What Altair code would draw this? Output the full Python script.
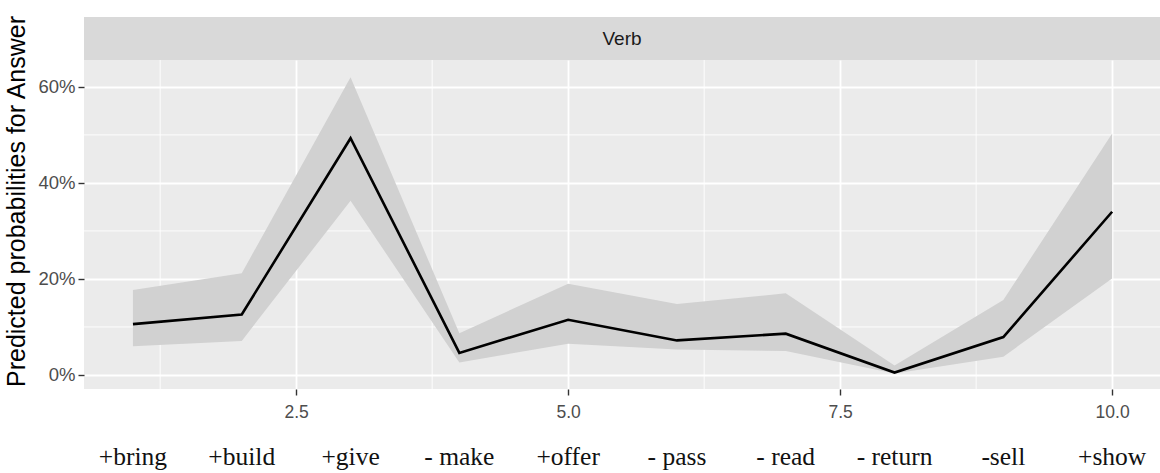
import altair as alt
import pandas as pd

verbs = ["+bring", "+build", "+give", "- make", "+offer", "- pass", "- read", "- return", "-sell", "+show"]
x_pos = [1, 2, 3, 4, 5, 6, 7, 8, 9, 10]
predicted = [0.106, 0.126, 0.493, 0.046, 0.115, 0.072, 0.086, 0.005, 0.079, 0.340]
conf_low = [0.060, 0.071, 0.363, 0.026, 0.065, 0.053, 0.050, 0.003, 0.038, 0.201]
conf_high = [0.177, 0.212, 0.620, 0.087, 0.190, 0.148, 0.170, 0.020, 0.156, 0.503]
x_ticks = [2.5, 5.0, 7.5, 10.0]
y_ticks = [0.0, 0.2, 0.4, 0.6]
x_minor = [1.25, 3.75, 6.25, 8.75]
y_minor = [0.1, 0.3, 0.5]
facet_label = "Verb"
y_title = "Predicted probabilities for Answer"

W, H = 1076, 329

df = pd.DataFrame({"x": x_pos, "y": predicted, "lo": conf_low, "hi": conf_high, "verb": verbs})

xscale = alt.Scale(domain=[0.55, 10.44], nice=False, zero=False)
yscale = alt.Scale(domain=[-0.0292, 0.656], nice=False, zero=False)

xaxis = alt.Axis(values=x_ticks, format=".1f", title=None, grid=True, gridColor="white",
                 gridWidth=1.8, domain=False, tickColor="#333333", tickSize=6, tickWidth=1.4,
                 labelColor="#4D4D4D", labelFontSize=17.5, labelFont="Liberation Sans",
                 labelPadding=8)
yaxis = alt.Axis(values=y_ticks, format=".0%", title=y_title, grid=True, gridColor="white",
                 gridWidth=1.8, domain=False, tickColor="#333333", tickSize=6, tickWidth=1.4,
                 labelColor="#4D4D4D", labelFontSize=18.5, labelFont="Liberation Sans",
                 labelPadding=3, titleFont="Liberation Sans", titleFontSize=25,
                 titleFontWeight="normal", titleColor="#000000", titleAngle=270,
                 titleX=-68, titleY=141, titleAlign="center", titleBaseline="middle")


def X(field):
    return alt.X(field, type="quantitative", scale=xscale, axis=xaxis)


def Y(field):
    return alt.Y(field, type="quantitative", scale=yscale, axis=yaxis)


vminor = alt.Chart(pd.DataFrame({"x": x_minor})).mark_rule(color="white", strokeWidth=0.9).encode(x=X("x"))
hminor = alt.Chart(pd.DataFrame({"y": y_minor})).mark_rule(color="white", strokeWidth=0.9).encode(y=Y("y"))

ribbon = alt.Chart(df).mark_area(color="#D1D1D1", opacity=1).encode(x=X("x"), y=Y("lo"), y2="hi")
line = alt.Chart(df).mark_line(color="black", strokeWidth=2.6).encode(x=X("x"), y=Y("y"))

strip_df = pd.DataFrame({"label": [facet_label]})
strip = alt.Chart(strip_df).mark_rect(color="#D9D9D9").encode(
    x=alt.value(0), x2=alt.value(W), y=alt.value(-43), y2=alt.value(0))
strip_text = alt.Chart(strip_df).mark_text(font="Liberation Sans", fontSize=19, color="#1A1A1A",
                                           baseline="middle").encode(
    x=alt.value(W / 2), y=alt.value(-21), text="label:N")

verb_text = alt.Chart(df).mark_text(font="Liberation Serif", fontSize=25.5, baseline="alphabetic",
                                    color="#111111").encode(
    x=X("x"), y=alt.value(405), text="verb:N")

chart = alt.layer(vminor, hminor, ribbon, line, strip, strip_text, verb_text).properties(
    width=W, height=H,
    autosize=alt.AutoSizeParams(type="none"),
    padding={"left": 84, "top": 60, "right": 0, "bottom": 84},
    background="white",
).configure_view(fill="#EBEBEB", strokeWidth=0)

chart.save("out.html", embed_options={"renderer": "svg", "actions": False})
